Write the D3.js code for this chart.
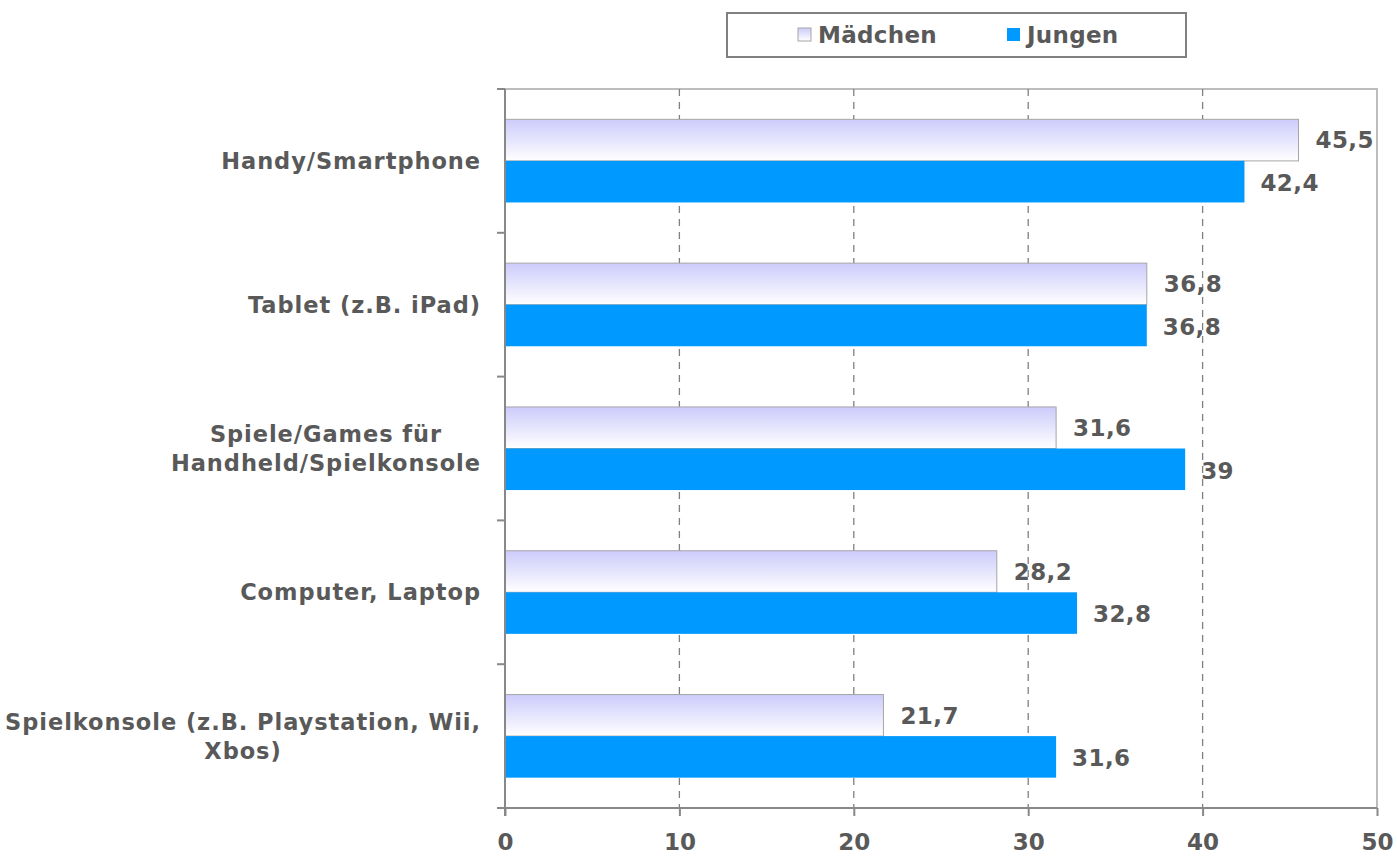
<!DOCTYPE html>
<html>
<head>
<meta charset="utf-8">
<script src="https://cdn.jsdelivr.net/npm/d3@7"></script>
<style>
  body { margin: 0; background: #fff; }
  text { font-family: "DejaVu Sans", Verdana, sans-serif; font-weight: bold; fill: #595959; }
</style>
</head>
<body>
<div id="chart"></div>
<script>
(function(d3) {
  'use strict';

  var categories = [
    ['Handy/Smartphone'],
    ['Tablet (z.B. iPad)'],
    ['Spiele/Games für', 'Handheld/Spielkonsole'],
    ['Computer, Laptop'],
    ['Spielkonsole (z.B. Playstation, Wii,', 'Xbos)']
  ];
  var maedchen = [45.5, 36.8, 31.6, 28.2, 21.7];
  var jungen = [42.4, 36.8, 39, 32.8, 31.6];
  var seriesNames = ['Mädchen', 'Jungen'];
  var xTicks = [0, 10, 20, 30, 40, 50];

  var width = 1397, height = 856;
  var left = 505, right = 1377, top = 89, bottom = 808;

  var svg = d3.select('#chart').append('svg')
    .attr('width', width)
    .attr('height', height);

  var defs = svg.append('defs');
  var grad = defs.append('linearGradient')
    .attr('id', 'girl')
    .attr('x1', 0).attr('y1', 0).attr('x2', 0).attr('y2', 1);
  grad.append('stop').attr('offset', '0%').attr('stop-color', '#cccbfb');
  grad.append('stop').attr('offset', '100%').attr('stop-color', '#ffffff');

  var x = d3.scaleLinear().domain([0, 50]).range([left, right]);
  var y = d3.scaleBand().domain(d3.range(categories.length)).range([top, bottom]);
  var inner = d3.scaleBand().domain([0, 1]).range([0, y.bandwidth()]).paddingOuter(0.73).paddingInner(0);

  var fmt = function(v) { return String(v).replace('.', ','); };

  // plot frame (top and right)
  svg.append('path')
    .attr('d', 'M' + left + ',' + top + 'H' + right + 'V' + bottom)
    .attr('fill', 'none')
    .attr('stroke', '#bdbdbd')
    .attr('stroke-width', 2);

  // grid lines
  svg.append('g')
    .selectAll('line')
    .data(xTicks.slice(1, -1))
    .enter().append('line')
      .attr('x1', function(d) { return x(d); })
      .attr('x2', function(d) { return x(d); })
      .attr('y1', top)
      .attr('y2', bottom)
      .attr('stroke', '#808080')
      .attr('stroke-width', 1.3)
      .attr('stroke-dasharray', '7,6');

  // bars
  var groups = svg.append('g').selectAll('g')
    .data(categories)
    .enter().append('g')
      .attr('transform', function(d, i) { return 'translate(0,' + y(i) + ')'; });

  groups.append('rect')
    .attr('x', x(0))
    .attr('y', inner(0))
    .attr('width', function(d, i) { return x(maedchen[i]) - x(0); })
    .attr('height', inner.bandwidth())
    .attr('fill', 'url(#girl)')
    .attr('stroke', '#a6a6a6')
    .attr('stroke-width', 1);

  groups.append('rect')
    .attr('x', x(0))
    .attr('y', inner(1))
    .attr('width', function(d, i) { return x(jungen[i]) - x(0); })
    .attr('height', inner.bandwidth())
    .attr('fill', '#0099ff');

  groups.append('text')
    .attr('x', function(d, i) { return x(maedchen[i]) + 17; })
    .attr('y', inner(0) + inner.bandwidth() / 2)
    .attr('dy', '.36em')
    .attr('font-size', 23)
    .attr('letter-spacing', 0.4)
    .text(function(d, i) { return fmt(maedchen[i]); });

  groups.append('text')
    .attr('x', function(d, i) { return x(jungen[i]) + 16; })
    .attr('y', inner(1) + inner.bandwidth() / 2 + 1)
    .attr('dy', '.36em')
    .attr('font-size', 23)
    .attr('letter-spacing', 0.4)
    .text(function(d, i) { return fmt(jungen[i]); });

  // category labels
  groups.each(function(lines, i) {
    var g = d3.select(this);
    var t = g.append('text')
      .attr('font-size', 22.5)
      .attr('letter-spacing', 0.95)
      .attr('text-anchor', 'middle');
    var lh = 29;
    var y0 = y.bandwidth() / 2 - (lines.length - 1) * lh / 2;
    var w = 0;
    lines.forEach(function(line, k) {
      var ts = t.append('tspan')
        .attr('x', 0)
        .attr('y', y0 + k * lh)
        .attr('dy', '.36em')
        .text(line);
      w = Math.max(w, ts.node().getComputedTextLength());
    });
    t.selectAll('tspan').attr('x', 481 - w / 2);
  });

  // y axis
  var yAxis = svg.append('g');
  yAxis.append('line')
    .attr('x1', left).attr('x2', left)
    .attr('y1', top).attr('y2', bottom + 8)
    .attr('stroke', '#888').attr('stroke-width', 2);
  yAxis.selectAll('.tick')
    .data(d3.range(categories.length + 1))
    .enter().append('line')
      .attr('x1', left - 8).attr('x2', left)
      .attr('y1', function(d) { return top + d * y.step(); })
      .attr('y2', function(d) { return top + d * y.step(); })
      .attr('stroke', '#888').attr('stroke-width', 2);

  // x axis
  var xAxis = svg.append('g')
    .attr('transform', 'translate(0,' + bottom + ')')
    .call(d3.axisBottom(x).tickValues(xTicks).tickSize(8).tickPadding(18));
  xAxis.select('.domain').remove();
  xAxis.selectAll('.tick line').attr('stroke', '#888').attr('stroke-width', 2);
  xAxis.selectAll('.tick text')
    .attr('font-size', 23)
    .attr('font-family', '"DejaVu Sans", Verdana, sans-serif')
    .attr('fill', '#595959');
  xAxis.append('line')
    .attr('x1', left - 8).attr('x2', right)
    .attr('stroke', '#888').attr('stroke-width', 2);

  // legend
  var legend = svg.append('g');
  legend.append('rect')
    .attr('x', 727).attr('y', 13)
    .attr('width', 459).attr('height', 44)
    .attr('fill', '#fff')
    .attr('stroke', '#808080')
    .attr('stroke-width', 2);
  var items = legend.selectAll('g')
    .data(seriesNames)
    .enter().append('g')
      .attr('transform', function(d, i) { return 'translate(' + (i === 0 ? 798 : 1007) + ',35)'; });
  items.append('rect')
    .attr('x', 0).attr('y', -7)
    .attr('width', 13).attr('height', 13)
    .attr('fill', function(d, i) { return i === 0 ? 'url(#girl)' : '#0099ff'; })
    .attr('stroke', function(d, i) { return i === 0 ? '#a6a6a6' : 'none'; });
  items.append('text')
    .attr('x', 20)
    .attr('dy', '.36em')
    .attr('font-size', 23)
    .attr('letter-spacing', 0.3)
    .text(function(d) { return d; });
})(window.d3);
</script>
</body>
</html>
